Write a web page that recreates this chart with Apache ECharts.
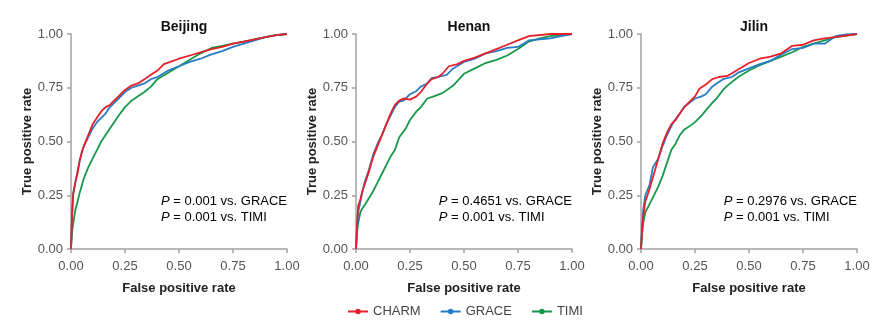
<!DOCTYPE html>
<html>
<head>
<meta charset="utf-8">
<script src="https://cdn.jsdelivr.net/npm/echarts@6/dist/echarts.min.js"></script>
<style>
  html, body { margin: 0; padding: 0; background: #fff; }
  #chart { width: 888px; height: 324px; }
</style>
</head>
<body>
<div id="chart"></div>
<script>
// ROC curves: [false positive rate, true positive rate]
const regions = ['Beijing', 'Henan', 'Jilin'];
const models = ['CHARM', 'GRACE', 'TIMI'];
const colors = ['#e5202b', '#2a7bc6', '#16994a'];
const axisTicks = [0, 0.25, 0.5, 0.75, 1];

const beijingCharm = [[0,0],[0.005,0.15],[0.01,0.25],[0.02,0.31],[0.03,0.35],[0.04,0.41],[0.05,0.45],[0.06,0.48],[0.08,0.53],[0.1,0.58],[0.12,0.61],[0.14,0.64],[0.16,0.66],[0.18,0.67],[0.2,0.69],[0.22,0.71],[0.25,0.74],[0.28,0.76],[0.31,0.77],[0.34,0.79],[0.37,0.81],[0.4,0.83],[0.43,0.86],[0.46,0.87],[0.5,0.885],[0.55,0.90],[0.6,0.915],[0.65,0.93],[0.7,0.94],[0.75,0.955],[0.8,0.965],[0.85,0.975],[0.9,0.985],[0.95,0.995],[1,1]];
const beijingGrace = [[0,0],[0.005,0.17],[0.01,0.26],[0.02,0.31],[0.03,0.36],[0.04,0.41],[0.05,0.45],[0.06,0.48],[0.08,0.52],[0.1,0.56],[0.12,0.59],[0.14,0.61],[0.16,0.63],[0.18,0.66],[0.2,0.68],[0.22,0.70],[0.25,0.73],[0.28,0.75],[0.31,0.76],[0.34,0.77],[0.37,0.79],[0.4,0.80],[0.45,0.83],[0.5,0.85],[0.55,0.87],[0.6,0.885],[0.65,0.905],[0.7,0.92],[0.75,0.94],[0.8,0.955],[0.85,0.97],[0.9,0.985],[0.95,0.995],[1,1]];
const beijingTimi = [[0,0],[0.005,0.08],[0.012,0.13],[0.02,0.18],[0.03,0.22],[0.04,0.26],[0.06,0.33],[0.08,0.38],[0.1,0.42],[0.12,0.46],[0.14,0.50],[0.16,0.53],[0.18,0.56],[0.2,0.59],[0.22,0.62],[0.25,0.66],[0.28,0.69],[0.31,0.71],[0.34,0.73],[0.37,0.755],[0.4,0.79],[0.45,0.82],[0.5,0.85],[0.55,0.88],[0.6,0.91],[0.65,0.935],[0.7,0.945],[0.75,0.955],[0.8,0.965],[0.85,0.975],[0.9,0.985],[0.95,0.995],[1,1]];

const henanCharm = [[0,0],[0.005,0.12],[0.01,0.20],[0.02,0.23],[0.03,0.27],[0.04,0.30],[0.06,0.36],[0.08,0.43],[0.1,0.48],[0.12,0.53],[0.14,0.58],[0.16,0.63],[0.18,0.67],[0.2,0.69],[0.22,0.70],[0.25,0.695],[0.28,0.71],[0.3,0.73],[0.33,0.77],[0.35,0.79],[0.38,0.80],[0.4,0.815],[0.43,0.85],[0.47,0.86],[0.5,0.875],[0.55,0.89],[0.6,0.91],[0.65,0.93],[0.7,0.95],[0.75,0.97],[0.8,0.99],[0.9,1],[1,1]];
const henanGrace = [[0,0],[0.005,0.10],[0.01,0.17],[0.02,0.22],[0.03,0.27],[0.04,0.31],[0.06,0.37],[0.08,0.44],[0.1,0.49],[0.12,0.53],[0.14,0.58],[0.16,0.62],[0.18,0.66],[0.2,0.685],[0.22,0.69],[0.25,0.72],[0.28,0.735],[0.3,0.755],[0.33,0.77],[0.35,0.795],[0.38,0.80],[0.42,0.81],[0.45,0.84],[0.5,0.87],[0.55,0.885],[0.6,0.91],[0.65,0.92],[0.7,0.935],[0.75,0.94],[0.8,0.97],[0.85,0.975],[0.9,0.98],[0.95,0.99],[1,1]];
const henanTimi = [[0,0],[0.005,0.08],[0.01,0.12],[0.02,0.17],[0.03,0.19],[0.05,0.22],[0.08,0.27],[0.1,0.31],[0.12,0.35],[0.14,0.39],[0.16,0.43],[0.18,0.46],[0.2,0.52],[0.23,0.56],[0.25,0.60],[0.28,0.64],[0.3,0.66],[0.33,0.70],[0.36,0.71],[0.4,0.725],[0.45,0.76],[0.5,0.815],[0.55,0.84],[0.6,0.865],[0.65,0.88],[0.7,0.90],[0.75,0.93],[0.8,0.965],[0.85,0.98],[0.9,0.99],[1,1]];

const jilinCharm = [[0,0],[0.005,0.09],[0.01,0.15],[0.02,0.22],[0.04,0.28],[0.06,0.35],[0.08,0.42],[0.1,0.49],[0.12,0.54],[0.14,0.58],[0.16,0.60],[0.18,0.63],[0.2,0.66],[0.23,0.69],[0.25,0.71],[0.27,0.745],[0.3,0.765],[0.33,0.79],[0.36,0.80],[0.4,0.805],[0.45,0.835],[0.5,0.865],[0.55,0.885],[0.6,0.895],[0.65,0.91],[0.7,0.945],[0.75,0.95],[0.8,0.97],[0.85,0.98],[0.9,0.985],[1,1]];
const jilinGrace = [[0,0],[0.005,0.10],[0.01,0.18],[0.02,0.25],[0.04,0.30],[0.055,0.38],[0.08,0.42],[0.1,0.48],[0.12,0.53],[0.15,0.59],[0.18,0.63],[0.2,0.66],[0.23,0.685],[0.25,0.70],[0.28,0.71],[0.3,0.72],[0.33,0.755],[0.35,0.77],[0.38,0.79],[0.42,0.80],[0.45,0.82],[0.5,0.84],[0.55,0.86],[0.6,0.875],[0.65,0.905],[0.7,0.93],[0.75,0.935],[0.8,0.955],[0.85,0.955],[0.9,0.99],[0.95,0.998],[1,1]];
const jilinTimi = [[0,0],[0.005,0.07],[0.01,0.12],[0.02,0.17],[0.05,0.23],[0.08,0.29],[0.1,0.34],[0.12,0.40],[0.14,0.46],[0.16,0.49],[0.18,0.53],[0.2,0.555],[0.23,0.575],[0.25,0.59],[0.28,0.62],[0.3,0.645],[0.33,0.68],[0.35,0.70],[0.38,0.74],[0.4,0.76],[0.45,0.80],[0.5,0.83],[0.55,0.855],[0.6,0.875],[0.65,0.895],[0.7,0.915],[0.75,0.94],[0.8,0.955],[0.85,0.97],[0.9,0.985],[1,1]];

const curves = [
  [beijingCharm, beijingGrace, beijingTimi],
  [henanCharm, henanGrace, henanTimi],
  [jilinCharm, jilinGrace, jilinTimi]
];
const pGrace = ['0.001', '0.4651', '0.2976'];
const pTimi = ['0.001', '0.001', '0.001'];

const font = 'Liberation Sans, Arial, sans-serif';
const gridLefts = [71, 356, 641];
const gridWidth = 216;
const gridTop = 34;
const gridHeight = 215;

const grids = [], xAxes = [], yAxes = [], titles = [], series = [], graphics = [];

function fmt(v) { return v.toFixed(2); }

regions.forEach((name, i) => {
  grids.push({ left: gridLefts[i], top: gridTop, width: gridWidth, height: gridHeight });
  const axisCommon = {
    type: 'value', min: 0, max: 1, interval: 0.25,
    axisLine: { show: true, lineStyle: { color: '#a3a3a3', width: 1.5 } },
    axisTick: { show: true, length: 4, lineStyle: { color: '#a3a3a3', width: 1.5 } },
    splitLine: { show: false },
    axisLabel: { color: '#555', fontSize: 13, fontFamily: font, formatter: fmt },
    nameLocation: 'middle',
    nameTextStyle: { color: '#222', fontSize: 13, fontWeight: 'bold', fontFamily: font }
  };
  xAxes.push(Object.assign({}, axisCommon, {
    gridIndex: i, name: 'False positive rate', nameGap: 33,
    axisLabel: Object.assign({}, axisCommon.axisLabel, { margin: 11 })
  }));
  yAxes.push(Object.assign({}, axisCommon, {
    gridIndex: i, name: 'True positive rate', nameGap: 36,
    axisLabel: Object.assign({}, axisCommon.axisLabel, { margin: 8 })
  }));
  titles.push({
    text: name, left: gridLefts[i] + gridWidth / 2, top: 15, textAlign: 'center',
    textStyle: { fontSize: 14, fontWeight: 'bold', color: '#111', fontFamily: font }
  });
  models.forEach((m, k) => {
    series.push({
      name: m, type: 'line', xAxisIndex: i, yAxisIndex: i,
      data: curves[i][k], symbol: 'circle', symbolSize: 7, showSymbol: false,
      lineStyle: { color: colors[k], width: 1.8 }, itemStyle: { color: colors[k] },
      animation: false, silent: true, z: 3 - k
    });
  });
  // two-line significance note, left-aligned block flush with the plot's right edge
  graphics.push({
    type: 'text', right: 888 - (gridLefts[i] + gridWidth), top: 195,
    style: {
      text: '{p|P}{t| = ' + pGrace[i] + ' vs. GRACE}\n{p|P}{t| = ' + pTimi[i] + ' vs. TIMI}',
      align: 'left',
      rich: {
        p: { fontStyle: 'italic', fontSize: 13, fontFamily: font, color: '#3a3a3a', lineHeight: 16 },
        t: { fontSize: 13, fontFamily: font, color: '#3a3a3a', lineHeight: 16 }
      }
    }
  });
});

const chart = echarts.init(document.getElementById('chart'), null, { renderer: 'canvas' });
chart.setOption({
  backgroundColor: '#fff',
  animation: false,
  title: titles,
  grid: grids,
  xAxis: xAxes,
  yAxis: yAxes,
  series: series,
  graphic: graphics,
  legend: {
    data: models, top: 300, left: 342, itemWidth: 20, itemHeight: 7, itemGap: 19,
    textStyle: { color: '#444', fontSize: 13, fontFamily: font }
  }
});
</script>
</body>
</html>
